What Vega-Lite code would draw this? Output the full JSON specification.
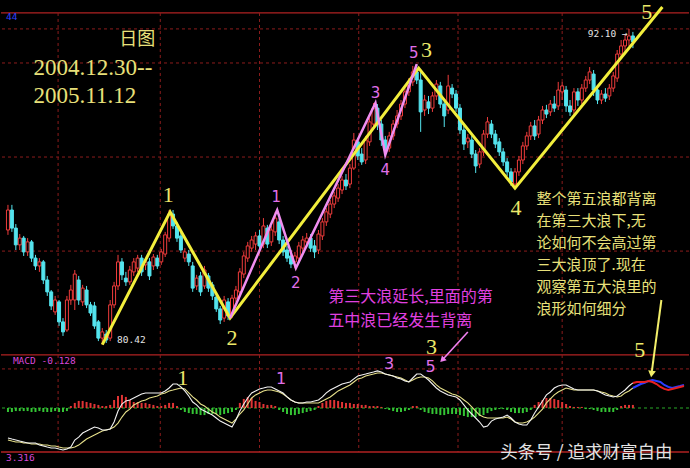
{
"$schema": "https://vega.github.io/schema/vega-lite/v6.json",
"width": 690, "height": 468,
"autosize": {"type": "fit", "contains": "padding"},
"padding": 0,
"background": "#000000",
"config": {"view": {"stroke": null}},
"datasets": {
"k": [
{"i":0,"o":84.66,"h":85.59,"l":84.48,"c":85.40,"dif":-2.25,"dea":-2.40,"hist":-0.30},
{"i":1,"o":85.40,"h":85.59,"l":84.59,"c":84.73,"dif":-2.33,"dea":-2.48,"hist":-0.30},
{"i":2,"o":84.73,"h":84.88,"l":83.92,"c":84.11,"dif":-2.40,"dea":-2.55,"hist":-0.23},
{"i":3,"o":84.11,"h":84.51,"l":83.92,"c":84.36,"dif":-2.48,"dea":-2.55,"hist":-0.23},
{"i":4,"o":84.36,"h":84.44,"l":83.70,"c":83.85,"dif":-2.55,"dea":-2.63,"hist":-0.23},
{"i":5,"o":83.85,"h":84.36,"l":83.70,"c":84.22,"dif":-2.63,"dea":-2.63,"hist":-0.23},
{"i":6,"o":84.22,"h":84.29,"l":83.48,"c":83.62,"dif":-2.63,"dea":-2.70,"hist":-0.30},
{"i":7,"o":83.62,"h":83.74,"l":83.18,"c":83.33,"dif":-2.63,"dea":-2.70,"hist":-0.30},
{"i":8,"o":83.33,"h":83.62,"l":83.11,"c":83.48,"dif":-2.78,"dea":-2.70,"hist":-0.23},
{"i":9,"o":83.48,"h":83.55,"l":82.66,"c":82.81,"dif":-2.85,"dea":-2.78,"hist":-0.30},
{"i":10,"o":82.81,"h":82.96,"l":82.22,"c":82.37,"dif":-2.93,"dea":-2.78,"hist":-0.30},
{"i":11,"o":82.37,"h":82.44,"l":81.70,"c":81.85,"dif":-3.00,"dea":-2.85,"hist":-0.30},
{"i":12,"o":81.63,"h":82.22,"l":81.52,"c":82.07,"dif":-3.00,"dea":-2.85,"hist":-0.23},
{"i":13,"o":82.00,"h":82.07,"l":81.11,"c":81.26,"dif":-3.08,"dea":-2.93,"hist":-0.30},
{"i":14,"o":81.26,"h":81.40,"l":80.74,"c":80.89,"dif":-3.15,"dea":-3.00,"hist":-0.30},
{"i":15,"o":80.96,"h":82.22,"l":80.89,"c":82.07,"dif":-3.08,"dea":-3.00,"hist":-0.23},
{"i":16,"o":82.07,"h":82.63,"l":81.89,"c":82.44,"dif":-2.93,"dea":-3.00,"hist":0.15},
{"i":17,"o":82.07,"h":83.18,"l":81.70,"c":83.03,"dif":-2.40,"dea":-2.93,"hist":0.38},
{"i":18,"o":82.81,"h":82.96,"l":81.89,"c":82.07,"dif":-2.18,"dea":-2.78,"hist":0.53},
{"i":19,"o":82.00,"h":82.63,"l":81.85,"c":82.51,"dif":-1.88,"dea":-2.55,"hist":0.53},
{"i":20,"o":82.44,"h":82.59,"l":81.77,"c":81.89,"dif":-1.73,"dea":-2.33,"hist":0.45},
{"i":21,"o":81.89,"h":82.00,"l":81.48,"c":81.59,"dif":-1.58,"dea":-2.18,"hist":0.38},
{"i":22,"o":81.85,"h":82.00,"l":81.00,"c":81.11,"dif":-1.43,"dea":-2.03,"hist":0.30},
{"i":23,"o":81.26,"h":81.33,"l":80.55,"c":80.66,"dif":-1.50,"dea":-1.88,"hist":0.23},
{"i":24,"o":80.66,"h":81.03,"l":80.42,"c":80.89,"dif":-1.65,"dea":-1.73,"hist":0.15},
{"i":25,"o":80.81,"h":80.96,"l":80.48,"c":80.59,"dif":-1.65,"dea":-1.65,"hist":0.15},
{"i":26,"o":80.66,"h":82.07,"l":80.55,"c":81.89,"dif":-1.58,"dea":-1.58,"hist":0.23},
{"i":27,"o":81.89,"h":82.74,"l":81.77,"c":82.59,"dif":-1.05,"dea":-1.43,"hist":0.60},
{"i":28,"o":82.59,"h":83.74,"l":82.44,"c":83.48,"dif":-0.23,"dea":-1.13,"hist":0.90},
{"i":29,"o":83.48,"h":83.62,"l":82.81,"c":83.00,"dif":0.30,"dea":-0.68,"hist":0.98},
{"i":30,"o":82.88,"h":83.11,"l":82.59,"c":82.74,"dif":0.53,"dea":-0.30,"hist":0.83},
{"i":31,"o":82.74,"h":83.33,"l":82.63,"c":83.18,"dif":0.60,"dea":-0.08,"hist":0.60},
{"i":32,"o":83.11,"h":83.62,"l":82.96,"c":83.48,"dif":0.75,"dea":0.23,"hist":0.45},
{"i":33,"o":83.25,"h":83.74,"l":83.11,"c":83.62,"dif":0.90,"dea":0.38,"hist":0.45},
{"i":34,"o":83.62,"h":83.74,"l":82.96,"c":83.11,"dif":1.05,"dea":0.53,"hist":0.38},
{"i":35,"o":83.37,"h":83.62,"l":83.18,"c":83.48,"dif":1.13,"dea":0.60,"hist":0.38},
{"i":36,"o":83.48,"h":83.62,"l":82.81,"c":82.96,"dif":1.13,"dea":0.75,"hist":0.30},
{"i":37,"o":83.33,"h":83.77,"l":83.18,"c":83.66,"dif":1.13,"dea":0.83,"hist":0.23},
{"i":38,"o":83.62,"h":83.74,"l":83.22,"c":83.33,"dif":1.13,"dea":0.90,"hist":0.15},
{"i":39,"o":83.48,"h":83.96,"l":83.37,"c":83.85,"dif":1.13,"dea":1.05,"hist":0.15},
{"i":40,"o":83.77,"h":84.59,"l":83.66,"c":84.48,"dif":1.28,"dea":1.13,"hist":0.23},
{"i":41,"o":84.36,"h":85.40,"l":84.22,"c":85.25,"dif":1.50,"dea":1.28,"hist":0.38},
{"i":42,"o":85.25,"h":85.40,"l":84.70,"c":84.81,"dif":1.80,"dea":1.35,"hist":0.38},
{"i":43,"o":84.81,"h":84.96,"l":84.22,"c":84.36,"dif":1.80,"dea":1.43,"hist":0.15},
{"i":44,"o":84.44,"h":84.55,"l":83.81,"c":83.92,"dif":1.58,"dea":1.50,"hist":-0.15},
{"i":45,"o":83.62,"h":83.99,"l":83.48,"c":83.85,"dif":1.28,"dea":1.43,"hist":-0.30},
{"i":46,"o":83.77,"h":83.92,"l":83.33,"c":83.48,"dif":0.90,"dea":1.13,"hist":-0.38},
{"i":47,"o":83.33,"h":83.48,"l":82.37,"c":82.51,"dif":0.45,"dea":0.83,"hist":-0.45},
{"i":48,"o":82.59,"h":83.00,"l":82.44,"c":82.88,"dif":0.23,"dea":0.60,"hist":-0.45},
{"i":49,"o":82.96,"h":83.11,"l":82.22,"c":82.37,"dif":-0.08,"dea":0.30,"hist":-0.53},
{"i":50,"o":82.59,"h":83.33,"l":82.48,"c":83.18,"dif":-0.23,"dea":0.15,"hist":-0.53},
{"i":51,"o":82.96,"h":83.07,"l":82.37,"c":82.51,"dif":-0.38,"dea":-0.08,"hist":-0.45},
{"i":52,"o":82.63,"h":82.74,"l":82.07,"c":82.22,"dif":-0.53,"dea":-0.30,"hist":-0.45},
{"i":53,"o":82.18,"h":82.29,"l":81.63,"c":81.74,"dif":-0.75,"dea":-0.45,"hist":-0.45},
{"i":54,"o":81.74,"h":81.85,"l":81.18,"c":81.33,"dif":-0.98,"dea":-0.68,"hist":-0.53},
{"i":55,"o":81.40,"h":82.22,"l":81.26,"c":82.07,"dif":-1.13,"dea":-0.83,"hist":-0.45},
{"i":56,"o":82.00,"h":82.14,"l":81.33,"c":81.48,"dif":-1.28,"dea":-0.98,"hist":-0.38},
{"i":57,"o":81.55,"h":82.26,"l":81.40,"c":82.14,"dif":-1.43,"dea":-1.13,"hist":-0.30},
{"i":58,"o":82.14,"h":82.59,"l":82.00,"c":82.44,"dif":-0.90,"dea":-0.83,"hist":-0.15},
{"i":59,"o":82.37,"h":83.25,"l":82.26,"c":83.11,"dif":-0.23,"dea":-0.45,"hist":0.38},
{"i":60,"o":83.03,"h":83.85,"l":82.88,"c":83.70,"dif":0.30,"dea":-0.15,"hist":0.68},
{"i":61,"o":83.62,"h":84.22,"l":83.48,"c":84.07,"dif":0.75,"dea":0.30,"hist":0.83},
{"i":62,"o":83.99,"h":84.44,"l":83.85,"c":84.29,"dif":1.13,"dea":0.75,"hist":0.75},
{"i":63,"o":84.14,"h":84.59,"l":83.92,"c":84.44,"dif":1.28,"dea":0.98,"hist":0.53},
{"i":64,"o":84.44,"h":84.66,"l":83.92,"c":84.07,"dif":1.43,"dea":1.13,"hist":0.45},
{"i":65,"o":84.14,"h":85.10,"l":83.99,"c":84.81,"dif":1.50,"dea":1.28,"hist":0.30},
{"i":66,"o":84.73,"h":84.85,"l":83.99,"c":84.14,"dif":1.58,"dea":1.35,"hist":0.23},
{"i":67,"o":84.22,"h":84.81,"l":84.07,"c":84.66,"dif":1.58,"dea":1.35,"hist":0.23},
{"i":68,"o":84.59,"h":85.33,"l":84.44,"c":85.10,"dif":1.43,"dea":1.28,"hist":0.15},
{"i":69,"o":84.96,"h":85.10,"l":84.14,"c":84.29,"dif":1.28,"dea":1.20,"hist":-0.15},
{"i":70,"o":84.29,"h":84.44,"l":83.70,"c":83.85,"dif":1.13,"dea":1.05,"hist":-0.30},
{"i":71,"o":83.92,"h":84.07,"l":83.48,"c":83.62,"dif":0.83,"dea":0.83,"hist":-0.45},
{"i":72,"o":83.70,"h":83.92,"l":83.25,"c":83.40,"dif":0.60,"dea":0.60,"hist":-0.53},
{"i":73,"o":83.48,"h":83.85,"l":83.25,"c":83.70,"dif":0.45,"dea":0.45,"hist":-0.53},
{"i":74,"o":83.62,"h":84.22,"l":83.48,"c":84.07,"dif":0.38,"dea":0.38,"hist":-0.45},
{"i":75,"o":83.99,"h":84.44,"l":83.85,"c":84.29,"dif":0.38,"dea":0.38,"hist":-0.38},
{"i":76,"o":84.22,"h":84.55,"l":84.03,"c":84.36,"dif":0.45,"dea":0.38,"hist":-0.30},
{"i":77,"o":84.36,"h":84.51,"l":83.85,"c":83.99,"dif":0.45,"dea":0.38,"hist":-0.23},
{"i":78,"o":84.07,"h":84.29,"l":83.62,"c":83.85,"dif":0.53,"dea":0.38,"hist":-0.15},
{"i":79,"o":83.92,"h":84.66,"l":83.77,"c":84.51,"dif":0.60,"dea":0.38,"hist":0.15},
{"i":80,"o":84.44,"h":85.10,"l":84.29,"c":84.96,"dif":0.83,"dea":0.53,"hist":0.38},
{"i":81,"o":84.96,"h":85.47,"l":84.81,"c":85.33,"dif":1.13,"dea":0.68,"hist":0.53},
{"i":82,"o":85.25,"h":85.77,"l":85.10,"c":85.62,"dif":1.35,"dea":0.83,"hist":0.60},
{"i":83,"o":85.62,"h":86.07,"l":85.47,"c":85.92,"dif":1.50,"dea":1.05,"hist":0.60},
{"i":84,"o":85.84,"h":86.36,"l":85.70,"c":86.21,"dif":1.65,"dea":1.28,"hist":0.53},
{"i":85,"o":86.14,"h":86.66,"l":85.99,"c":86.51,"dif":1.80,"dea":1.43,"hist":0.45},
{"i":86,"o":86.51,"h":86.73,"l":86.14,"c":86.29,"dif":1.88,"dea":1.58,"hist":0.38},
{"i":87,"o":86.36,"h":87.10,"l":86.21,"c":86.95,"dif":1.95,"dea":1.73,"hist":0.38},
{"i":88,"o":86.95,"h":88.25,"l":86.88,"c":87.99,"dif":2.18,"dea":1.95,"hist":0.30},
{"i":89,"o":87.92,"h":88.06,"l":87.25,"c":87.40,"dif":2.40,"dea":2.18,"hist":0.30},
{"i":90,"o":87.47,"h":87.69,"l":87.07,"c":87.18,"dif":2.48,"dea":2.25,"hist":0.23},
{"i":91,"o":87.25,"h":88.14,"l":87.10,"c":87.99,"dif":2.55,"dea":2.40,"hist":0.23},
{"i":92,"o":87.92,"h":88.80,"l":87.77,"c":88.66,"dif":2.63,"dea":2.48,"hist":0.15},
{"i":93,"o":88.58,"h":89.36,"l":88.43,"c":89.17,"dif":2.70,"dea":2.55,"hist":0.15},
{"i":94,"o":89.17,"h":89.32,"l":88.36,"c":88.58,"dif":2.78,"dea":2.63,"hist":0.15},
{"i":95,"o":88.58,"h":88.73,"l":87.77,"c":87.99,"dif":2.70,"dea":2.63,"hist":0.08},
{"i":96,"o":87.99,"h":88.14,"l":87.44,"c":87.62,"dif":2.55,"dea":2.55,"hist":-0.08},
{"i":97,"o":87.69,"h":88.29,"l":87.55,"c":88.14,"dif":2.48,"dea":2.48,"hist":-0.15},
{"i":98,"o":88.14,"h":88.73,"l":87.99,"c":88.58,"dif":2.40,"dea":2.40,"hist":-0.23},
{"i":99,"o":88.58,"h":89.10,"l":88.43,"c":88.88,"dif":2.25,"dea":2.33,"hist":-0.30},
{"i":100,"o":88.88,"h":89.47,"l":88.73,"c":89.32,"dif":2.18,"dea":2.25,"hist":-0.30},
{"i":101,"o":89.32,"h":89.91,"l":89.17,"c":89.77,"dif":2.03,"dea":2.10,"hist":-0.23},
{"i":102,"o":89.77,"h":90.28,"l":89.62,"c":90.14,"dif":1.95,"dea":1.95,"hist":-0.15},
{"i":103,"o":90.14,"h":90.73,"l":89.99,"c":90.51,"dif":2.25,"dea":2.10,"hist":0.15},
{"i":104,"o":90.51,"h":90.80,"l":90.06,"c":90.21,"dif":2.55,"dea":2.25,"hist":0.15},
{"i":105,"o":90.21,"h":90.51,"l":88.29,"c":89.03,"dif":2.55,"dea":2.33,"hist":-0.15},
{"i":106,"o":89.10,"h":89.66,"l":88.88,"c":89.47,"dif":2.33,"dea":2.33,"hist":-0.30},
{"i":107,"o":89.40,"h":89.62,"l":88.95,"c":89.17,"dif":2.10,"dea":2.25,"hist":-0.38},
{"i":108,"o":89.17,"h":89.77,"l":89.03,"c":89.62,"dif":1.80,"dea":2.03,"hist":-0.45},
{"i":109,"o":89.62,"h":90.21,"l":89.47,"c":90.06,"dif":1.50,"dea":1.73,"hist":-0.45},
{"i":110,"o":89.99,"h":90.14,"l":89.17,"c":89.32,"dif":1.28,"dea":1.50,"hist":-0.53},
{"i":111,"o":89.32,"h":89.47,"l":88.47,"c":88.88,"dif":1.13,"dea":1.35,"hist":-0.53},
{"i":112,"o":89.10,"h":90.40,"l":88.95,"c":89.99,"dif":0.98,"dea":1.20,"hist":-0.45},
{"i":113,"o":89.91,"h":90.06,"l":89.54,"c":89.69,"dif":0.90,"dea":1.05,"hist":-0.45},
{"i":114,"o":89.69,"h":89.84,"l":89.03,"c":89.17,"dif":0.83,"dea":0.98,"hist":-0.45},
{"i":115,"o":89.17,"h":89.32,"l":88.21,"c":88.36,"dif":0.60,"dea":0.83,"hist":-0.53},
{"i":116,"o":88.36,"h":88.51,"l":87.62,"c":87.84,"dif":0.23,"dea":0.60,"hist":-0.60},
{"i":117,"o":87.92,"h":88.21,"l":87.69,"c":88.06,"dif":-0.15,"dea":0.38,"hist":-0.68},
{"i":118,"o":87.99,"h":88.14,"l":87.32,"c":87.47,"dif":-0.45,"dea":0.08,"hist":-0.68},
{"i":119,"o":87.47,"h":87.62,"l":86.77,"c":87.03,"dif":-0.75,"dea":-0.23,"hist":-0.68},
{"i":120,"o":87.10,"h":87.69,"l":86.95,"c":87.55,"dif":-1.05,"dea":-0.53,"hist":-0.60},
{"i":121,"o":87.55,"h":88.36,"l":87.40,"c":88.21,"dif":-1.43,"dea":-0.68,"hist":-0.53},
{"i":122,"o":88.21,"h":88.84,"l":88.06,"c":88.66,"dif":-1.35,"dea":-0.75,"hist":-0.38},
{"i":123,"o":88.58,"h":88.73,"l":88.06,"c":88.21,"dif":-0.98,"dea":-0.75,"hist":-0.23},
{"i":124,"o":88.21,"h":88.36,"l":87.69,"c":87.84,"dif":-0.83,"dea":-0.75,"hist":-0.15},
{"i":125,"o":87.92,"h":88.06,"l":87.40,"c":87.55,"dif":-0.75,"dea":-0.75,"hist":-0.08},
{"i":126,"o":87.55,"h":87.69,"l":87.03,"c":87.18,"dif":-0.68,"dea":-0.75,"hist":-0.08},
{"i":127,"o":87.18,"h":87.32,"l":86.66,"c":86.81,"dif":-0.53,"dea":-0.68,"hist":-0.15},
{"i":128,"o":86.81,"h":86.95,"l":86.29,"c":86.44,"dif":-0.75,"dea":-0.83,"hist":-0.30},
{"i":129,"o":86.36,"h":86.95,"l":86.21,"c":86.81,"dif":-1.05,"dea":-1.05,"hist":-0.38},
{"i":130,"o":86.81,"h":87.40,"l":86.66,"c":87.25,"dif":-1.20,"dea":-1.13,"hist":-0.38},
{"i":131,"o":87.25,"h":87.92,"l":87.10,"c":87.77,"dif":-1.28,"dea":-1.13,"hist":-0.38},
{"i":132,"o":87.77,"h":88.29,"l":87.62,"c":88.14,"dif":-1.28,"dea":-1.05,"hist":-0.30},
{"i":133,"o":88.14,"h":88.66,"l":87.99,"c":88.51,"dif":-0.90,"dea":-0.90,"hist":-0.15},
{"i":134,"o":88.51,"h":88.73,"l":87.99,"c":88.14,"dif":-0.38,"dea":-0.68,"hist":0.23},
{"i":135,"o":88.21,"h":88.88,"l":88.06,"c":88.73,"dif":0.08,"dea":-0.38,"hist":0.45},
{"i":136,"o":88.73,"h":89.25,"l":88.58,"c":89.10,"dif":0.53,"dea":-0.08,"hist":0.60},
{"i":137,"o":89.10,"h":89.29,"l":88.80,"c":88.95,"dif":0.98,"dea":0.38,"hist":0.75},
{"i":138,"o":89.03,"h":89.47,"l":88.88,"c":89.32,"dif":1.20,"dea":0.68,"hist":0.75},
{"i":139,"o":89.32,"h":89.62,"l":89.03,"c":89.17,"dif":1.50,"dea":0.98,"hist":0.68},
{"i":140,"o":89.25,"h":90.14,"l":89.10,"c":89.84,"dif":1.65,"dea":1.20,"hist":0.60},
{"i":141,"o":89.77,"h":90.14,"l":89.47,"c":89.99,"dif":1.73,"dea":1.35,"hist":0.45},
{"i":142,"o":89.84,"h":89.99,"l":89.03,"c":89.25,"dif":1.73,"dea":1.50,"hist":0.30},
{"i":143,"o":89.25,"h":89.47,"l":88.88,"c":89.03,"dif":1.58,"dea":1.43,"hist":0.15},
{"i":144,"o":89.10,"h":89.91,"l":88.95,"c":89.77,"dif":1.43,"dea":1.35,"hist":0.08},
{"i":145,"o":89.77,"h":89.91,"l":89.25,"c":89.47,"dif":1.35,"dea":1.35,"hist":0.08},
{"i":146,"o":89.47,"h":90.06,"l":89.32,"c":89.91,"dif":1.35,"dea":1.35,"hist":0.08},
{"i":147,"o":89.91,"h":90.36,"l":89.77,"c":90.21,"dif":1.35,"dea":1.35,"hist":-0.08},
{"i":148,"o":90.21,"h":90.69,"l":90.06,"c":90.51,"dif":1.35,"dea":1.35,"hist":-0.08},
{"i":149,"o":90.43,"h":90.58,"l":89.62,"c":89.84,"dif":1.35,"dea":1.35,"hist":-0.15},
{"i":150,"o":89.84,"h":89.99,"l":89.32,"c":89.47,"dif":1.28,"dea":1.28,"hist":-0.23},
{"i":151,"o":89.47,"h":89.84,"l":89.32,"c":89.69,"dif":1.13,"dea":1.20,"hist":-0.30},
{"i":152,"o":89.69,"h":89.91,"l":89.40,"c":89.54,"dif":0.98,"dea":1.13,"hist":-0.30},
{"i":153,"o":89.62,"h":90.06,"l":89.47,"c":89.91,"dif":0.90,"dea":0.98,"hist":-0.30},
{"i":154,"o":89.91,"h":90.51,"l":89.77,"c":90.36,"dif":0.83,"dea":0.90,"hist":-0.30},
{"i":155,"o":90.28,"h":91.32,"l":90.14,"c":91.17,"dif":0.90,"dea":0.83,"hist":-0.15},
{"i":156,"o":91.17,"h":91.69,"l":91.02,"c":91.47,"dif":1.13,"dea":0.90,"hist":0.15},
{"i":157,"o":91.47,"h":91.91,"l":91.25,"c":91.69,"dif":1.35,"dea":1.13,"hist":0.23},
{"i":158,"o":91.69,"h":92.10,"l":91.47,"c":91.84,"dif":1.65,"dea":1.28,"hist":0.23},
{"i":159,"o":91.84,"h":91.99,"l":91.39,"c":91.62,"dif":1.88,"dea":1.50,"hist":0.23}
],
"ext": [
{"i":159,"r":1.88,"b":1.50},{"i":160,"r":1.95,"b":1.65},{"i":161,"r":1.95,"b":1.80},{"i":162,"r":1.95,"b":1.88},
{"i":163,"r":2.03,"b":2.03},{"i":164,"r":1.95,"b":2.10},{"i":165,"r":1.80,"b":2.03},{"i":166,"r":1.58,"b":1.95},
{"i":167,"r":1.43,"b":1.73},{"i":168,"r":1.35,"b":1.58},{"i":169,"r":1.43,"b":1.50},{"i":170,"r":1.50,"b":1.58},
{"i":171,"r":1.58,"b":1.65},{"i":172,"r":1.65,"b":1.73}
],
"yw": [
{"i":24,"p":80.42},{"i":41.25,"p":85.33},{"i":56.5,"p":81.40},{"i":104.5,"p":90.65},{"i":129,"p":86.21},{"i":166.5,"p":92.91}
],
"pw": [
{"i":56.5,"p":81.40},{"i":68.5,"p":85.40},{"i":73.25,"p":83.25},{"i":93.5,"p":89.36},{"i":96,"p":87.44},{"i":104,"p":90.80}
]
},
"layer": [
{"layer": [
{"data": {"values": [{"p":92.10},{"p":90.84},{"p":87.36},{"p":83.88}]},
 "mark": {"type": "rule", "color": "#8c1c1c", "strokeDash": [3,3], "strokeWidth": 1},
 "encoding": {"y": {"field": "p", "type": "quantitative", "scale": {"domain": [75.854, 93.17], "nice": false, "zero": false}, "axis": null}}},
{"data": {"values": [{"p":92.69},{"p":80.04}]},
 "mark": {"type": "rule", "color": "#b02222", "strokeWidth": 1.3},
 "encoding": {"y": {"field": "p", "type": "quantitative", "scale": {"domain": [75.854, 93.17], "nice": false, "zero": false}, "axis": null}}},
{"data": {"values": [{"i":12.75},{"i":38.75},{"i":64},{"i":89.25},{"i":114.5},{"i":141}]},
 "mark": {"type": "rule", "color": "#8c1c1c", "strokeDash": [3,3], "strokeWidth": 1},
 "encoding": {
  "x": {"field": "i", "type": "quantitative", "scale": {"domain": [-0.5, 172], "nice": false, "zero": false}, "axis": null},
  "y": {"datum": 92.69, "type": "quantitative", "scale": {"domain": [75.854, 93.17], "nice": false, "zero": false}, "axis": null},
  "y2": {"datum": 76.45}}},
{"data": {"name": "k"},
 "mark": {"type": "rule", "strokeWidth": 1},
 "encoding": {
  "x": {"field": "i", "type": "quantitative", "scale": {"domain": [-0.5, 172], "nice": false, "zero": false}, "axis": null},
  "y": {"field": "l", "type": "quantitative", "scale": {"domain": [75.854, 93.17], "nice": false, "zero": false}, "axis": null},
  "y2": {"field": "h"},
  "color": {"condition": {"test": "datum.c >= datum.o", "value": "#f03c3c"}, "value": "#54e4ee"}}},
{"data": {"name": "k"},
 "mark": {"type": "bar", "size": 3, "strokeWidth": 1},
 "encoding": {
  "x": {"field": "i", "type": "quantitative", "scale": {"domain": [-0.5, 172], "nice": false, "zero": false}, "axis": null},
  "y": {"field": "o", "type": "quantitative", "scale": {"domain": [75.854, 93.17], "nice": false, "zero": false}, "axis": null},
  "y2": {"field": "c"},
  "fill": {"condition": {"test": "datum.c >= datum.o", "value": "#000000"}, "value": "#54e4ee"},
  "stroke": {"condition": {"test": "datum.c >= datum.o", "value": "#f03c3c"}, "value": "#54e4ee"}}},
{"data": {"name": "yw"},
 "mark": {"type": "line", "color": "#f2ee3c", "strokeWidth": 3},
 "encoding": {
  "x": {"field": "i", "type": "quantitative", "scale": {"domain": [-0.5, 172], "nice": false, "zero": false}, "axis": null},
  "y": {"field": "p", "type": "quantitative", "scale": {"domain": [75.854, 93.17], "nice": false, "zero": false}, "axis": null}}},
{"data": {"name": "pw"},
 "mark": {"type": "line", "color": "#f08ef0", "strokeWidth": 2.5},
 "encoding": {
  "x": {"field": "i", "type": "quantitative", "scale": {"domain": [-0.5, 172], "nice": false, "zero": false}, "axis": null},
  "y": {"field": "p", "type": "quantitative", "scale": {"domain": [75.854, 93.17], "nice": false, "zero": false}, "axis": null}}},
{"data": {"values": [{"i":40.75,"p":85.96,"t":"1"},{"i":57,"p":80.66,"t":"2"},{"i":106.5,"p":91.32,"t":"3"},{"i":129.25,"p":85.47,"t":"4"},{"i":162.5,"p":92.73,"t":"5"}]},
 "mark": {"type": "text", "font": "Liberation Serif", "fontSize": 22, "color": "#ece86a", "align": "center", "baseline": "middle"},
 "encoding": {
  "x": {"field": "i", "type": "quantitative", "scale": {"domain": [-0.5, 172], "nice": false, "zero": false}, "axis": null},
  "y": {"field": "p", "type": "quantitative", "scale": {"domain": [75.854, 93.17], "nice": false, "zero": false}, "axis": null},
  "text": {"field": "t"}}},
{"data": {"values": [{"i":68.25,"p":85.88,"t":"1"},{"i":73.25,"p":82.70,"t":"2"},{"i":93.5,"p":89.73,"t":"3"},{"i":96,"p":86.88,"t":"4"},{"i":103.25,"p":91.21,"t":"5"}]},
 "mark": {"type": "text", "font": "DejaVu Sans", "fontSize": 15, "color": "#e070e8", "align": "center", "baseline": "middle"},
 "encoding": {
  "x": {"field": "i", "type": "quantitative", "scale": {"domain": [-0.5, 172], "nice": false, "zero": false}, "axis": null},
  "y": {"field": "p", "type": "quantitative", "scale": {"domain": [75.854, 93.17], "nice": false, "zero": false}, "axis": null},
  "text": {"field": "t"}}},
{"data": {"values": [{"i":6.5,"p":90.65,"t":"2004.12.30--"},{"i":6.5,"p":89.62,"t":"2005.11.12"}]},
 "mark": {"type": "text", "font": "Liberation Serif", "fontSize": 23, "color": "#e8e07a", "align": "left", "baseline": "middle"},
 "encoding": {
  "x": {"field": "i", "type": "quantitative", "scale": {"domain": [-0.5, 172], "nice": false, "zero": false}, "axis": null},
  "y": {"field": "p", "type": "quantitative", "scale": {"domain": [75.854, 93.17], "nice": false, "zero": false}, "axis": null},
  "text": {"field": "t"}}},
{"data": {"values": [{"i":32.9,"p":91.69,"t":"日图"}]},
 "mark": {"type": "text", "font": "Noto Sans CJK SC", "fontSize": 18, "color": "#e8e07a", "align": "center", "baseline": "middle"},
 "encoding": {
  "x": {"field": "i", "type": "quantitative", "scale": {"domain": [-0.5, 172], "nice": false, "zero": false}, "axis": null},
  "y": {"field": "p", "type": "quantitative", "scale": {"domain": [75.854, 93.17], "nice": false, "zero": false}, "axis": null},
  "text": {"field": "t"}}},
{"data": {"values": [
  {"i":134.5,"p":85.81,"t":"整个第五浪都背离"},
  {"i":134.5,"p":84.99,"t":"在第三大浪下,无"},
  {"i":134.5,"p":84.18,"t":"论如何不会高过第"},
  {"i":134.5,"p":83.37,"t":"三大浪顶了.现在"},
  {"i":134.5,"p":82.55,"t":"观察第五大浪里的"},
  {"i":134.5,"p":81.74,"t":"浪形如何细分"}]},
 "mark": {"type": "text", "font": "Noto Sans CJK SC", "fontSize": 15, "color": "#e8e07a", "align": "left", "baseline": "middle"},
 "encoding": {
  "x": {"field": "i", "type": "quantitative", "scale": {"domain": [-0.5, 172], "nice": false, "zero": false}, "axis": null},
  "y": {"field": "p", "type": "quantitative", "scale": {"domain": [75.854, 93.17], "nice": false, "zero": false}, "axis": null},
  "text": {"field": "t"}}},
{"data": {"values": [
  {"i":81.5,"p":82.18,"t":"第三大浪延长,里面的第"},
  {"i":81.5,"p":81.29,"t":"五中浪已经发生背离"}]},
 "mark": {"type": "text", "font": "Noto Sans CJK SC", "fontSize": 16, "color": "#e040e0", "align": "left", "baseline": "middle"},
 "encoding": {
  "x": {"field": "i", "type": "quantitative", "scale": {"domain": [-0.5, 172], "nice": false, "zero": false}, "axis": null},
  "y": {"field": "p", "type": "quantitative", "scale": {"domain": [75.854, 93.17], "nice": false, "zero": false}, "axis": null},
  "text": {"field": "t"}}},
{"data": {"values": [{"i":27.75,"p":80.59,"t":"80.42"},{"i":147.5,"p":91.91,"t":"92.10 →"}]},
 "mark": {"type": "text", "font": "DejaVu Sans Mono", "fontSize": 9.5, "color": "#e4e4e4", "align": "left", "baseline": "middle"},
 "encoding": {
  "x": {"field": "i", "type": "quantitative", "scale": {"domain": [-0.5, 172], "nice": false, "zero": false}, "axis": null},
  "y": {"field": "p", "type": "quantitative", "scale": {"domain": [75.854, 93.17], "nice": false, "zero": false}, "axis": null},
  "text": {"field": "t"}}},
{"data": {"values": [{"i":-0.5,"p":92.54,"t":"44"}]},
 "mark": {"type": "text", "font": "DejaVu Sans Mono", "fontSize": 9.5, "color": "#3040ff", "align": "left", "baseline": "middle"},
 "encoding": {
  "x": {"field": "i", "type": "quantitative", "scale": {"domain": [-0.5, 172], "nice": false, "zero": false}, "axis": null},
  "y": {"field": "p", "type": "quantitative", "scale": {"domain": [75.854, 93.17], "nice": false, "zero": false}, "axis": null},
  "text": {"field": "t"}}}
]},
{"layer": [
{"data": {"values": [{"v":2.93}]},
 "mark": {"type": "rule", "color": "#8c1c1c", "strokeDash": [3,3], "strokeWidth": 1},
 "encoding": {"y": {"field": "v", "type": "quantitative", "scale": {"domain": [-4.5, 30.6], "nice": false, "zero": false}, "axis": null}}},
{"data": {"values": [{"v":-3.30}]},
 "mark": {"type": "rule", "color": "#b02222", "strokeWidth": 1.3},
 "encoding": {"y": {"field": "v", "type": "quantitative", "scale": {"domain": [-4.5, 30.6], "nice": false, "zero": false}, "axis": null}}},
{"data": {"values": [{"v":0}]},
 "mark": {"type": "rule", "color": "#28a828", "strokeDash": [3,3], "strokeWidth": 1},
 "encoding": {"y": {"field": "v", "type": "quantitative", "scale": {"domain": [-4.5, 30.6], "nice": false, "zero": false}, "axis": null}}},
{"data": {"name": "k"},
 "mark": {"type": "rule", "strokeWidth": 2},
 "encoding": {
  "x": {"field": "i", "type": "quantitative", "scale": {"domain": [-0.5, 172], "nice": false, "zero": false}, "axis": null},
  "y": {"field": "hist", "type": "quantitative", "scale": {"domain": [-4.5, 30.6], "nice": false, "zero": false}, "axis": null},
  "y2": {"datum": 0},
  "color": {"condition": {"test": "datum.hist > 0", "value": "#e03434"}, "value": "#34c434"}}},
{"data": {"name": "k"},
 "mark": {"type": "line", "color": "#e6e08a", "strokeWidth": 1.1},
 "encoding": {
  "x": {"field": "i", "type": "quantitative", "scale": {"domain": [-0.5, 172], "nice": false, "zero": false}, "axis": null},
  "y": {"field": "dea", "type": "quantitative", "scale": {"domain": [-4.5, 30.6], "nice": false, "zero": false}, "axis": null}}},
{"data": {"name": "k"},
 "mark": {"type": "line", "color": "#f2f2f2", "strokeWidth": 1.1},
 "encoding": {
  "x": {"field": "i", "type": "quantitative", "scale": {"domain": [-0.5, 172], "nice": false, "zero": false}, "axis": null},
  "y": {"field": "dif", "type": "quantitative", "scale": {"domain": [-4.5, 30.6], "nice": false, "zero": false}, "axis": null}}},
{"data": {"name": "ext"},
 "mark": {"type": "line", "color": "#2a3cff", "strokeWidth": 2},
 "encoding": {
  "x": {"field": "i", "type": "quantitative", "scale": {"domain": [-0.5, 172], "nice": false, "zero": false}, "axis": null},
  "y": {"field": "b", "type": "quantitative", "scale": {"domain": [-4.5, 30.6], "nice": false, "zero": false}, "axis": null}}},
{"data": {"name": "ext"},
 "mark": {"type": "line", "color": "#e82020", "strokeWidth": 2},
 "encoding": {
  "x": {"field": "i", "type": "quantitative", "scale": {"domain": [-0.5, 172], "nice": false, "zero": false}, "axis": null},
  "y": {"field": "r", "type": "quantitative", "scale": {"domain": [-4.5, 30.6], "nice": false, "zero": false}, "axis": null}}},
{"data": {"values": [{"i":166.25,"v":8.10,"i2":163.75,"v2":2.6}]},
 "mark": {"type": "rule", "color": "#f2ee6a", "strokeWidth": 2},
 "encoding": {
  "x": {"field": "i", "type": "quantitative", "scale": {"domain": [-0.5, 172], "nice": false, "zero": false}, "axis": null},
  "x2": {"field": "i2"},
  "y": {"field": "v", "type": "quantitative", "scale": {"domain": [-4.5, 30.6], "nice": false, "zero": false}, "axis": null},
  "y2": {"field": "v2"}}},
{"data": {"values": [{"i":117,"v":5.70,"i2":110.5,"v2":3.60}]},
 "mark": {"type": "rule", "color": "#f080f0", "strokeWidth": 1.6},
 "encoding": {
  "x": {"field": "i", "type": "quantitative", "scale": {"domain": [-0.5, 172], "nice": false, "zero": false}, "axis": null},
  "x2": {"field": "i2"},
  "y": {"field": "v", "type": "quantitative", "scale": {"domain": [-4.5, 30.6], "nice": false, "zero": false}, "axis": null},
  "y2": {"field": "v2"}}},
{"data": {"values": [{"i":163.75,"v":2.55}]},
 "mark": {"type": "point", "shape": "triangle-up", "angle": 188, "filled": true, "size": 60, "color": "#f2ee6a", "opacity": 1},
 "encoding": {
  "x": {"field": "i", "type": "quantitative", "scale": {"domain": [-0.5, 172], "nice": false, "zero": false}, "axis": null},
  "y": {"field": "v", "type": "quantitative", "scale": {"domain": [-4.5, 30.6], "nice": false, "zero": false}, "axis": null}}},
{"data": {"values": [{"i":110.5,"v":3.60}]},
 "mark": {"type": "point", "shape": "triangle-up", "angle": 225, "filled": true, "size": 45, "color": "#f080f0", "opacity": 1},
 "encoding": {
  "x": {"field": "i", "type": "quantitative", "scale": {"domain": [-0.5, 172], "nice": false, "zero": false}, "axis": null},
  "y": {"field": "v", "type": "quantitative", "scale": {"domain": [-4.5, 30.6], "nice": false, "zero": false}, "axis": null}}},
{"data": {"values": [{"i":44.5,"v":2.25,"t":"1"},{"i":107.75,"v":4.58,"t":"3"},{"i":160.75,"v":4.35,"t":"5"}]},
 "mark": {"type": "text", "font": "Liberation Serif", "fontSize": 22, "color": "#ece86a", "align": "center", "baseline": "middle"},
 "encoding": {
  "x": {"field": "i", "type": "quantitative", "scale": {"domain": [-0.5, 172], "nice": false, "zero": false}, "axis": null},
  "y": {"field": "v", "type": "quantitative", "scale": {"domain": [-4.5, 30.6], "nice": false, "zero": false}, "axis": null},
  "text": {"field": "t"}}},
{"data": {"values": [{"i":69.5,"v":2.18,"t":"1"},{"i":97,"v":3.30,"t":"3"},{"i":107.5,"v":3.08,"t":"5"}]},
 "mark": {"type": "text", "font": "DejaVu Sans", "fontSize": 16, "color": "#e070e8", "align": "center", "baseline": "middle"},
 "encoding": {
  "x": {"field": "i", "type": "quantitative", "scale": {"domain": [-0.5, 172], "nice": false, "zero": false}, "axis": null},
  "y": {"field": "v", "type": "quantitative", "scale": {"domain": [-4.5, 30.6], "nice": false, "zero": false}, "axis": null},
  "text": {"field": "t"}}},
{"data": {"values": [{"i":1.25,"v":3.53,"t":"MACD -0.128"},{"i":-0.5,"v":-3.75,"t":"3.316"}]},
 "mark": {"type": "text", "font": "DejaVu Sans Mono", "fontSize": 9.5, "color": "#d848d8", "align": "left", "baseline": "middle"},
 "encoding": {
  "x": {"field": "i", "type": "quantitative", "scale": {"domain": [-0.5, 172], "nice": false, "zero": false}, "axis": null},
  "y": {"field": "v", "type": "quantitative", "scale": {"domain": [-4.5, 30.6], "nice": false, "zero": false}, "axis": null},
  "text": {"field": "t"}}},
{"data": {"values": [{"i":125.25,"v":-3.38,"t":"头条号 / 追求财富自由"}]},
 "mark": {"type": "text", "font": "Noto Sans CJK SC", "fontSize": 17.5, "color": "#e2e2e2", "align": "left", "baseline": "middle"},
 "encoding": {
  "x": {"field": "i", "type": "quantitative", "scale": {"domain": [-0.5, 172], "nice": false, "zero": false}, "axis": null},
  "y": {"field": "v", "type": "quantitative", "scale": {"domain": [-4.5, 30.6], "nice": false, "zero": false}, "axis": null},
  "text": {"field": "t"}}}
]}
],
"resolve": {"scale": {"y": "independent"}}
}
